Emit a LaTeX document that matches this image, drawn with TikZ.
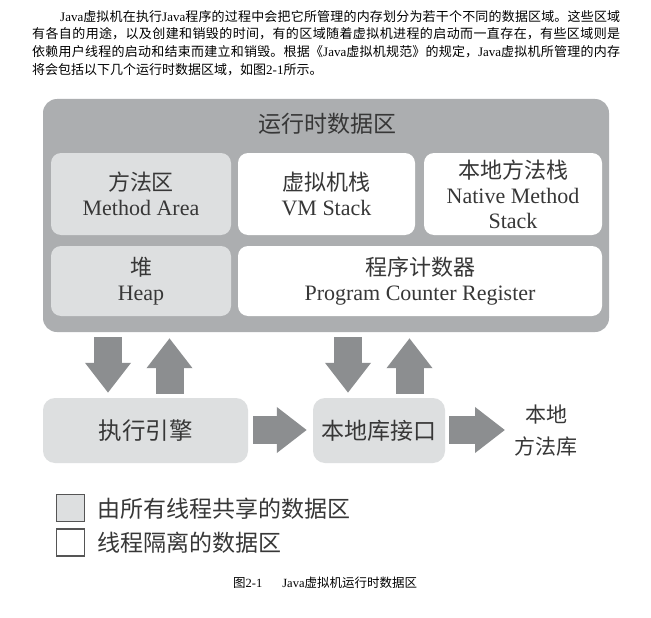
\documentclass[tikz,border=0pt]{standalone}
\usepackage{fontspec}
\setmainfont{Liberation Serif}
\newfontfamily\cjk{Noto Sans CJK SC}
\usetikzlibrary{arrows.meta}
\XeTeXlinebreaklocale "zh"
\XeTeXlinebreakskip=0pt plus 2pt minus 0.3pt
\newcommand\zh[1]{{\cjk #1}}
\definecolor{maing}{RGB}{172,174,176}
\definecolor{lightg}{RGB}{221,223,224}
\definecolor{arrowg}{RGB}{140,142,144}
\definecolor{txt}{RGB}{55,55,55}
\definecolor{legb}{RGB}{85,85,85}
\begin{document}
\begin{tikzpicture}[x=1pt,y=-1pt,
  region/.style={rounded corners=10pt, inner sep=0pt, align=center, text=txt,
    font=\fontsize{22}{25}\selectfont},
  shared/.style={region, fill=lightg},
  private/.style={region, fill=white},
  bigarrow/.style={draw=arrowg, line width=28pt,
    -{Triangle[width=44pt,length=30pt]}},
  legendbox/.style={draw=legb, line width=1.3pt, minimum width=28pt,
    minimum height=27pt, inner sep=0pt},
  label/.style={inner sep=0pt, text=txt}]
\useasboundingbox[fill=white] (0,0) rectangle (651,618);

% introductory paragraph
\node[anchor=north west, inner sep=0pt, text width=588pt, align=justify,
  font=\fontsize{13}{17.7}\selectfont] (para) at (32,10)
{\hspace*{28pt}Java\zh{虚拟机在执行}Java\zh{程序的过程中会把它所管理的内存划分为若干个不同的数据区域。这些区域}\linebreak
\zh{有各自的用途，以及创建和销毁的时间，有的区域随着虚拟机进程的启动而一直存在，有些区域则是}\linebreak
\zh{依赖用户线程的启动和结束而建立和销毁。根据《}Java\zh{虚拟机规范》的规定，}Java\zh{虚拟机所管理的内存}\linebreak
\zh{将会包括以下几个运行时数据区域，如图}2-1\zh{所示。}};

% runtime data area
\node[region, fill=maing, rounded corners=14pt, minimum width=566pt,
  minimum height=233pt] (main) at (326,215.5) {};
\node[label, font=\fontsize{23}{25}\selectfont] (title) at (327,124) {\zh{运行时数据区}};

\node[shared, minimum width=180pt, minimum height=82pt] (method) at (141,194)
  {\zh{方法区}\\Method Area};
\node[private, minimum width=177pt, minimum height=82pt] (vmstack) at (326.5,194)
  {\zh{虚拟机栈}\\VM Stack};
\node[private, minimum width=178pt, minimum height=82pt] (native) at (513,194)
  {\zh{本地方法栈}\\Native Method\\Stack};
\node[shared, minimum width=180pt, minimum height=70pt] (heap) at (141,281)
  {\zh{堆}\\Heap};
\node[private, minimum width=364pt, minimum height=70pt] (pc) at (420,281)
  {\zh{程序计数器}\\Program Counter Register};

% execution engine and native interface
\node[shared, rounded corners=12pt, minimum width=205pt, minimum height=65pt,
  font=\fontsize{23.5}{25}\selectfont] (engine) at (145.5,430.5) {\raisebox{-2pt}{\zh{执行引擎}}};
\node[shared, rounded corners=12pt, minimum width=132pt, minimum height=65pt,
  font=\fontsize{23}{25}\selectfont] (jni) at (379,430.5) {\zh{本地库接口}};
\node[label, align=center, font=\fontsize{21}{32}\selectfont] (lib) at (546,431)
  {\zh{本地}\\\zh{方法库}};

% arrows
\coordinate (xa) at (108,0);
\coordinate (xb) at (169.5,0);
\coordinate (xc) at (348,0);
\coordinate (xd) at (409.5,0);
\coordinate (libtip) at (505,430);
\draw[bigarrow, shorten <=5pt, shorten >=5pt] (main.south -| xa) -- (engine.north -| xa);
\draw[bigarrow, shorten <=4pt, shorten >=6pt] (engine.north -| xb) -- (main.south -| xb);
\draw[bigarrow, shorten <=5pt, shorten >=5pt] (main.south -| xc) -- (jni.north -| xc);
\draw[bigarrow, shorten <=4pt, shorten >=6pt] (jni.north -| xd) -- (main.south -| xd);
\draw[bigarrow, shorten <=5pt, shorten >=6pt] (engine.east |- libtip) -- (jni.west |- libtip);
\draw[bigarrow, shorten <=4pt] (jni.east |- libtip) -- (libtip);

% legend
\node[legendbox, fill=lightg] (lg1) at (70.5,508) {};
\node[legendbox, fill=white] (lg2) at (70.5,542.5) {};
\node[label, anchor=west, font=\fontsize{23}{25}\selectfont] (lt1) at (97,509)
  {\zh{由所有线程共享的数据区}};
\node[label, anchor=west, font=\fontsize{23}{25}\selectfont] (lt2) at (97,543)
  {\zh{线程隔离的数据区}};

% caption
\node[inner sep=0pt, anchor=west, font=\fontsize{12.5}{14}\selectfont] (cap) at (233,583)
  {\zh{图}2-1\hspace{1.6em}Java\zh{虚拟机运行时数据区}};
\end{tikzpicture}
\end{document}
